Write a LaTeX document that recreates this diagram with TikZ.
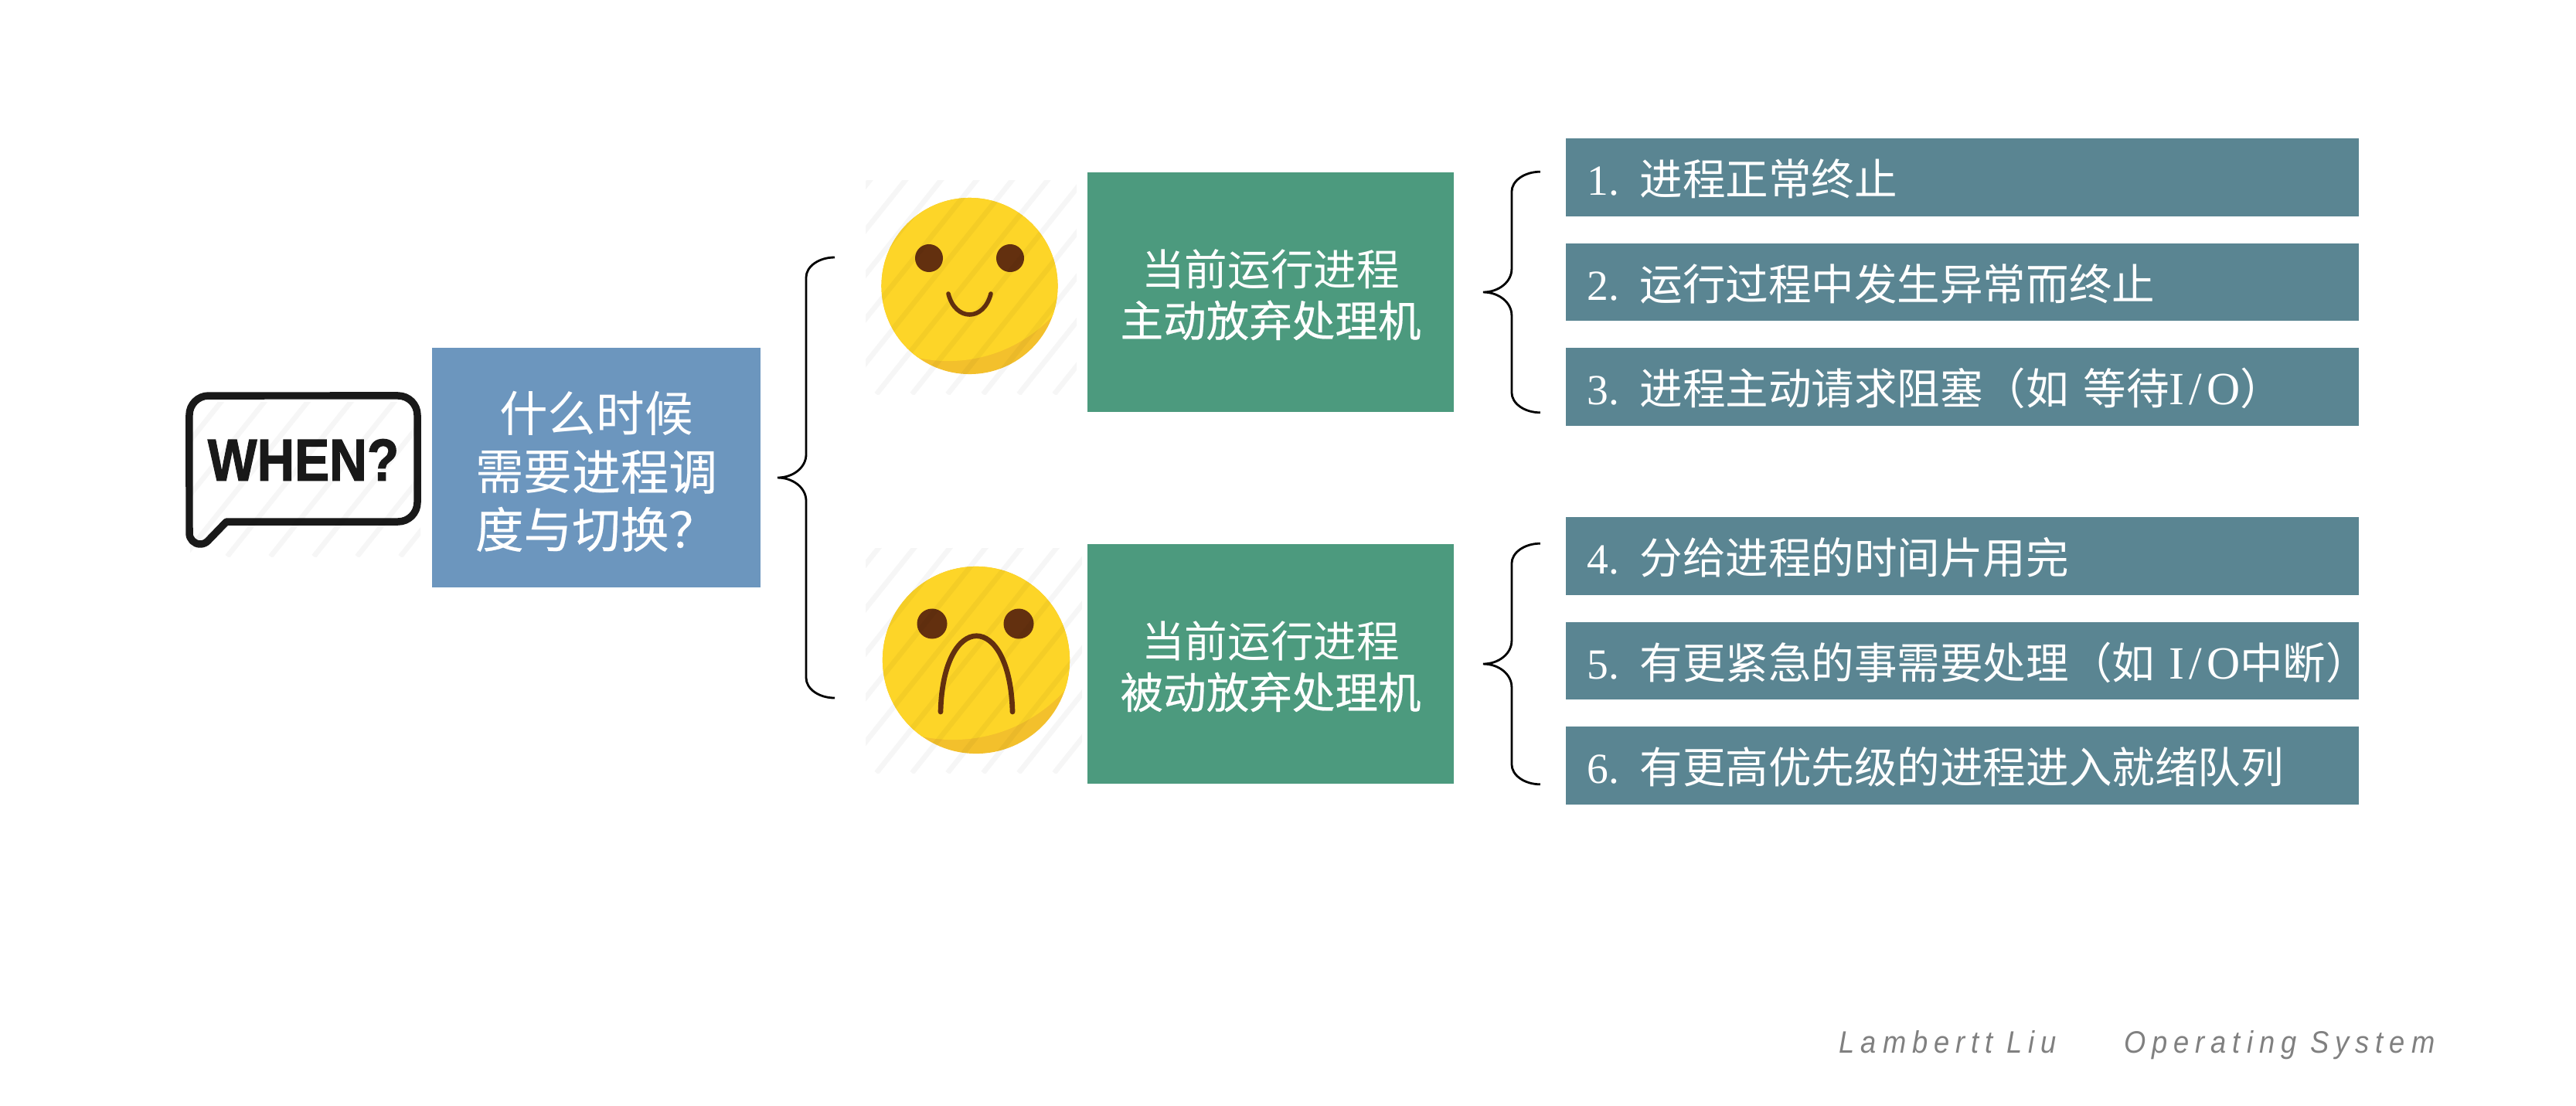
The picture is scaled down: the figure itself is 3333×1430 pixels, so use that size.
\documentclass[tikz,border=0pt]{standalone}
\usepackage{fontspec}
\setmainfont{Noto Sans CJK SC}
\newfontfamily\latn{Liberation Serif}
\newfontfamily\iofont[LetterSpace=10]{Liberation Serif}
\newfontfamily\heavycjk[FakeBold=0.4]{Noto Sans CJK SC}
\newfontfamily\creditfont[LetterSpace=22]{Liberation Sans}
\newfontfamily\whenfont[BoldFeatures={FakeBold=1.6}]{Liberation Sans}
\usetikzlibrary{positioning,calc}
\definecolor{askblue}{HTML}{6C96BE}
\definecolor{quitgreen}{HTML}{4C9A7E}
\definecolor{casegray}{HTML}{5A8592}
\definecolor{faceyellow}{HTML}{FDD528}
\definecolor{facedark}{HTML}{F3C02C}
\definecolor{facebrown}{HTML}{63300F}
\newcommand{\stripeband}[5]{%
  \begin{scope}
  \clip (#1,#2) rectangle (#3,#4);
  \foreach \s in {-400,#5,...,400}
    \draw[black,opacity=0.035,line width=1.9pt] (#1+\s,#4) -- ++(320,-400);
  \end{scope}}
\newcommand{\curlybrace}[2]{%
  \coordinate (mid) at ($(#1)!0.5!(#2)$);
  \draw[curly] (#1) arc[start angle=90,end angle=180,x radius=3.7mm,y radius=2.6mm]
    -- ($(mid)+(-37,-30)$) arc[start angle=0,end angle=-90,x radius=3.7mm,y radius=3mm]
    arc[start angle=90,end angle=0,x radius=3.7mm,y radius=3mm]
    -- ($(#2)+(-37,-26)$) arc[start angle=180,end angle=270,x radius=3.7mm,y radius=2.6mm];}
\newcommand{\io}{{\iofont\fontsize{17}{18}\selectfont I/O}}

\begin{document}
\begin{tikzpicture}[x=0.01cm,y=-0.01cm,node distance=3.4mm and 10mm,inner sep=0pt]
\tikzstyle{ask}=[rectangle, fill=askblue, text=white, minimum width=42.5mm, minimum height=31mm, align=center, text height=59pt, text depth=0pt, font=\fontsize{17.8}{21.3}\selectfont]
\tikzstyle{quit}=[rectangle, fill=quitgreen, text=white, minimum width=47.4mm, minimum height=31mm, align=center, text height=32.8pt, text depth=0pt, font=\fontsize{15.8}{18.8}\selectfont]
\tikzstyle{case}=[rectangle, fill=casegray, text=white, minimum height=10mm, text width=100mm, align=left, inner xsep=1.3mm, text height=5.6mm, text depth=1mm, font=\fontsize{15.8}{18}\selectfont, execute at begin node=\hspace*{1.5mm}]
\tikzstyle{face}=[circle, fill=facedark, minimum size=22.8mm]
\tikzstyle{eye}=[circle, fill=facebrown, minimum size=3.6mm]
\tikzstyle{lip}=[facebrown, line width=1.6pt, line cap=round]
\tikzstyle{curly}=[thick]
\useasboundingbox (0,0) rectangle (3333,1430);
\fill[white] (0,0) rectangle (3333,1430);
% left part
\node[ask] (ask) at (771.5,605) {什么时候\\需要{\heavycjk 进程调}\\{\heavycjk 度与切换？}};
\draw[line width=2.7pt, line join=round, black!90] (293,675) -- (515,675) arc[start angle=270,end angle=360,radius=2.5mm] -- (540,537) arc[start angle=0,end angle=90,radius=2.5mm] -- (270,512) arc[start angle=90,end angle=180,radius=2.5mm] -- (245,690) arc[start angle=180,end angle=315,radius=1.4mm] -- cycle;
\node[font=\whenfont\bfseries\fontsize{21.8}{24}\selectfont, xscale=0.88, text=black!90] (when) at (392.5,595) {WHEN?};
\coordinate (bigtop) at (1080,333);
\coordinate (bigbot) at (1080,903);
\curlybrace{bigtop}{bigbot}
% faces
\node[face] (smile) at (1254.5,370) {};
\begin{scope}
\clip (1254.5,370) circle (1.14cm);
\fill[faceyellow] (1227,282) circle (1.85cm);
\end{scope}
\node[eye] (smilel) at (1202,334) {};
\node[eye] (smiler) at (1307,334) {};
\draw[lip] (1227,380) .. controls (1236,416) and (1273,416) .. (1282,380);
\node[face, minimum size=24.2mm] (frown) at (1263,854) {};
\begin{scope}
\clip (1263,854) circle (1.21cm);
\fill[faceyellow] (1233,761) circle (1.96cm);
\end{scope}
\node[eye,minimum size=3.9mm] (frownl) at (1206,807) {};
\node[eye,minimum size=3.9mm] (frownr) at (1318,807) {};
\draw[lip, line width=1.9pt] (1217,921) .. controls (1220,790) and (1307,790) .. (1310,921);
\stripeband{1120}{233}{1393}{510}{-354}
\stripeband{1120}{709}{1400}{1000}{-354}
\stripeband{246}{520}{544}{720}{-344}
% second level
\node[quit] (active) at (1644,378) {当前运行进程\\{\heavycjk 主动放弃处理机}};
\node[quit] (passive) at (1644,859) {当前运行进程\\{\heavycjk 被动放弃处理机}};
\coordinate (activetop) at ([xshift=11.1mm]active.north east);
\coordinate (activebot) at ([xshift=11.1mm]active.south east);
\coordinate (passivetop) at ([xshift=11.1mm]passive.north east);
\coordinate (passivebot) at ([xshift=11.1mm]passive.south east);
\curlybrace{activetop}{activebot}
\curlybrace{passivetop}{passivebot}
% cases
\node[case] (finish) at (2539,229.5) {{\latn 1.}\hspace{7.4pt}进程正常终止};
\node[case] (fault) [below=of finish] {{\latn 2.}\hspace{7.4pt}运行过程中发生异常而终止};
\node[case] (block) [below=of fault] {{\latn 3.}\hspace{7.4pt}进程主动请求阻塞（如 等待\io）};
\node[case] (slice) at (2539,719.5) {{\latn 4.}\hspace{7.4pt}分给进程的时间片用完};
\node[case] (urgent) [below=of slice] {\mbox{{\latn 5.}\hspace{7.4pt}有更紧急的事需要处理（如 \io 中断）}};
\node[case] (ready) [below=of urgent] {{\latn 6.}\hspace{7.4pt}有更高优先级的进程进入就绪队列};
\node[text=black!50, anchor=east, xscale=0.905, font=\creditfont\itshape\fontsize{11.4}{13}\selectfont] (credit) at (3151,1352) {Lambertt Liu\hspace{2.4em}Operating System};
\end{tikzpicture}
\end{document}
